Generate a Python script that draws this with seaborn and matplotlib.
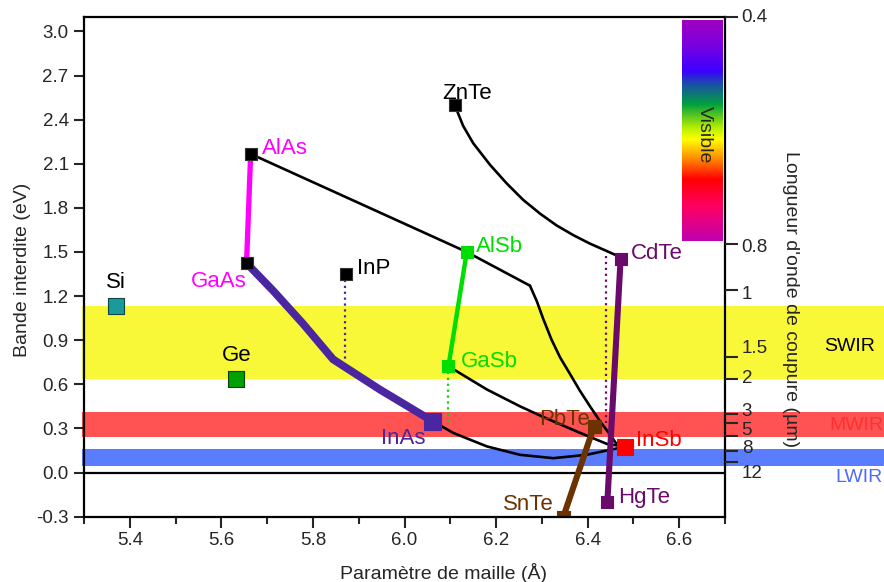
import numpy as np
import matplotlib
matplotlib.use('Agg')
import matplotlib.pyplot as plt
from matplotlib.patches import Rectangle
from matplotlib.colors import LinearSegmentedColormap
import matplotlib.transforms as mtransforms
import seaborn as sns

# ------------------------------
# DATA
# ------------------------------
compounds = ['Si', 'Ge', 'AlAs', 'GaAs', 'InP', 'InAs', 'ZnTe', 'AlSb',
             'GaSb', 'CdTe', 'HgTe', 'InSb', 'PbTe', 'SnTe']
lattice = [5.369, 5.633, 5.664, 5.655, 5.872, 6.060, 6.110, 6.136,
           6.096, 6.472, 6.443, 6.482, 6.414, 6.347]
gap = [1.130, 0.634, 2.167, 1.424, 1.347, 0.352, 2.497, 1.500,
       0.723, 1.454, -0.202, 0.176, 0.315, -0.300]

# alloy curves
gaas_inas_a = [5.655, 5.713, 5.779, 5.844, 5.946, 6.060]
gaas_inas_e = [1.424, 1.237, 1.010, 0.770, 0.565, 0.352]
alas_gaas_a = [5.664, 5.655]
alas_gaas_e = [2.167, 1.424]
alas_alsb_a = [5.664, 6.136, 6.274]
alas_alsb_e = [2.167, 1.500, 1.271]
alsb_insb_a = [6.274, 6.289, 6.303, 6.321, 6.340, 6.362, 6.383, 6.405,
               6.427, 6.449, 6.463, 6.482]
alsb_insb_e = [1.271, 1.165, 1.045, 0.905, 0.782, 0.668, 0.557, 0.451,
               0.349, 0.258, 0.195, 0.176]
alsb_gasb_a = [6.136, 6.096]
alsb_gasb_e = [1.500, 0.723]
gasb_insb_a = [6.096, 6.180, 6.252, 6.303, 6.376, 6.442, 6.482]
gasb_insb_e = [0.723, 0.565, 0.451, 0.378, 0.280, 0.195, 0.176]
inas_insb_a = [6.060, 6.107, 6.180, 6.252, 6.325, 6.398, 6.449, 6.482]
inas_insb_e = [0.352, 0.269, 0.178, 0.121, 0.098, 0.121, 0.155, 0.176]
znte_cdte_a = [6.110, 6.128, 6.150, 6.187, 6.223, 6.259, 6.296, 6.332,
               6.369, 6.405, 6.442, 6.468]
znte_cdte_e = [2.497, 2.358, 2.240, 2.092, 1.967, 1.855, 1.761, 1.681,
               1.614, 1.557, 1.506, 1.470]
cdte_hgte_a = [6.472, 6.443]
cdte_hgte_e = [1.454, -0.202]
snte_pbte_a = [6.347, 6.414]
snte_pbte_e = [-0.300, 0.315]

# dotted drop lines
inp_drop_a = [5.870, 5.870]
inp_drop_e = [1.347, 0.759]
gasb_drop_a = [6.094, 6.094]
gasb_drop_e = [0.723, 0.326]
cdte_drop_a = [6.440, 6.440]
cdte_drop_e = [1.476, 0.338]

# infrared bands (eV)
band_names = ['SWIR', 'MWIR', 'LWIR']
band_low = [0.634, 0.242, 0.048]
band_high = [1.130, 0.410, 0.160]

# right axis: cut-off wavelength (um)
wl_tick_e = [3.10, 1.552, 1.242, 0.786, 0.638, 0.401, 0.338, 0.246, 0.150, 0.071]
wl_labels = ['0.4', '0.8', '1', '1.5', '2', '3', '5', '8', '12']
wl_label_e = [3.067, 1.500, 1.180, 0.816, 0.606, 0.383, 0.258, 0.133, -0.038]

# visible spectrum strip
vis_stops = [0.0, 0.11, 0.23, 0.29, 0.38, 0.49, 0.54, 0.63, 0.72, 0.84, 1.0]
vis_colors = ['#a000c0', '#7a00e0', '#3c00ff', '#1a50a8', '#00a040', '#b8f000',
              '#ffff00', '#ff8800', '#ff0000', '#ff0060', '#c000b0']

# ------------------------------
# STYLE
# ------------------------------
sns.set_theme(style='ticks')
plt.rcParams['font.family'] = ['Liberation Sans', 'DejaVu Sans']
plt.rcParams['axes.linewidth'] = 1.6

c_mag = '#ff00ff'
c_ind = '#4a27a0'
c_grn = '#00dd00'
c_pur = '#6a0a6a'
c_brn = '#6b3300'
c_red = '#ff0000'

fig = plt.figure(figsize=(8.84, 5.82), dpi=100)
ax = fig.add_axes([84 / 884, 1 - 516.7 / 582, 641 / 884, 500 / 582])
ax.set_xlim(5.3, 6.7)
ax.set_ylim(-0.3, 3.1)

# bands spill past both axes
band_cols = ['#f8f838', '#ff5252', '#5a7cff']
trans = mtransforms.blended_transform_factory(ax.transAxes, ax.transData)
for lo, hi, col in zip(band_low, band_high, band_cols):
    ax.add_patch(Rectangle((-0.003, lo), 1.3, hi - lo, transform=trans,
                           facecolor=col, edgecolor='none', clip_on=False, zorder=0))

ax.text(1.195, 0.827, 'SWIR', transform=trans, ha='center', va='baseline',
        fontsize=14, color='black')
ax.text(1.163, 0.292, 'MWIR', transform=trans, ha='left', va='baseline',
        fontsize=14, color='#ff3030')
ax.text(1.172, -0.061, 'LWIR', transform=trans, ha='left', va='baseline',
        fontsize=14, color='#4d6bff')

# visible strip
vis_cmap = LinearSegmentedColormap.from_list('vis', list(zip(vis_stops, vis_colors)))
ax.imshow(np.linspace(0, 1, 256)[:, None], cmap=vis_cmap, aspect='auto',
          extent=(6.605, 6.693, 1.572, 3.070), zorder=1)
ax.text(6.654, 2.30, 'Visible', rotation=270, ha='center', va='center', fontsize=14)

ax.axhline(0, color='black', lw=1.6, zorder=2)

# curves
def curve(a, e, color, lw, ls='-', z=3):
    sns.lineplot(x=a, y=e, sort=False, estimator=None, color=color, lw=lw,
                 linestyle=ls, ax=ax, zorder=z)

curve(alas_alsb_a, alas_alsb_e, 'black', 1.9)
curve(alsb_insb_a, alsb_insb_e, 'black', 1.9)
curve(gasb_insb_a, gasb_insb_e, 'black', 1.9)
curve(inas_insb_a, inas_insb_e, 'black', 1.9)
curve(znte_cdte_a, znte_cdte_e, 'black', 1.9)
curve(inp_drop_a, inp_drop_e, c_ind, 1.6, ':')
curve(gasb_drop_a, gasb_drop_e, c_grn, 1.6, ':')
curve(cdte_drop_a, cdte_drop_e, c_pur, 1.6, ':')
curve(alas_gaas_a, alas_gaas_e, c_mag, 3.8, z=4)
curve(gaas_inas_a, gaas_inas_e, c_ind, 5.6, z=4)
curve(alsb_gasb_a, alsb_gasb_e, c_grn, 3.2, z=4)
curve(cdte_hgte_a, cdte_hgte_e, c_pur, 4.4, z=4)
curve(snte_pbte_a, snte_pbte_e, c_brn, 4.4, z=4)

# markers
mk_face = ['#1a9a9a', '#00a000', 'black', 'black', 'black', c_ind, 'black', c_grn,
           c_grn, c_pur, c_pur, c_red, c_brn, c_brn]
mk_edge = ['#104545', '#0a400a', '#333333', '#333333', '#333333', c_ind, '#333333', c_grn,
           c_grn, c_pur, c_pur, c_red, c_brn, c_brn]
mk_px = [16, 16.5, 12, 12, 12, 17, 12, 12, 12, 12.5, 12.5, 16.5, 13, 13]
for a, e, fc, ec, px in zip(lattice, gap, mk_face, mk_edge, mk_px):
    sns.scatterplot(x=[a], y=[e], marker='s', s=(px * 0.72) ** 2, color=fc,
                    edgecolor=ec, linewidth=0.8, ax=ax, zorder=6)

# compound labels
lab_x = [5.369, 5.634, 5.688, 5.655, 5.897, 6.045, 6.083, 6.157,
         6.123, 6.494, 6.467, 6.506, 6.405, 6.325]
lab_y = [1.253, 0.759, 2.165, 1.260, 1.347, 0.196, 2.543, 1.500,
         0.720, 1.454, -0.209, 0.178, 0.326, -0.255]
lab_ha = ['center', 'center', 'left', 'right', 'left', 'right', 'left', 'left',
          'left', 'left', 'left', 'left', 'right', 'right']
lab_col = ['black', 'black', c_mag, c_mag, 'black', c_ind, 'black', c_grn,
           c_grn, c_pur, c_pur, c_red, c_brn, c_brn]
for name, x, y, ha, col in zip(compounds, lab_x, lab_y, lab_ha, lab_col):
    ax.text(x, y, name, ha=ha, va='baseline', fontsize=16, color=col, zorder=7)

# axes, ticks
ax.set_xticks(np.arange(5.4, 6.61, 0.2))
ax.set_xticklabels([f'{v:.1f}' for v in np.arange(5.4, 6.61, 0.2)])
ax.set_xticks(np.arange(5.3, 6.71, 0.2), minor=True)
ax.set_yticks(np.arange(-0.3, 3.01, 0.3))
ax.set_yticklabels([f'{v:.1f}' for v in np.arange(-0.3, 3.01, 0.3)])
ax.tick_params(axis='x', which='major', direction='out', length=8, width=1.5,
               pad=3, labelsize=13.5, top=False)
ax.tick_params(axis='x', which='minor', direction='out', length=5, width=1.5, top=False)
ax.tick_params(axis='y', which='major', direction='out', length=7, width=1.5,
               pad=4, labelsize=13.5, right=False)
for s in ax.spines.values():
    s.set_color('black')
    s.set_linewidth(1.6)
    s.set_zorder(8)

ax2 = ax.twinx()
ax2.set_ylim(ax.get_ylim())
ax2.set_yticks(wl_tick_e)
ax2.set_yticklabels([])
ax2.tick_params(axis='y', direction='out', length=9, width=1.5, left=False)
for s in ax2.spines.values():
    s.set_visible(False)
for lab, e in zip(wl_labels, wl_label_e):
    ax.text(1.026, e, lab, transform=trans, ha='left', va='baseline', fontsize=13.5)

fig.text(444 / 884, 1 - 579 / 582, 'Paramètre de maille (Å)', ha='center',
         va='baseline', fontsize=14)
fig.text(22.5 / 884, 1 - 270 / 582, 'Bande interdite (eV)', rotation=90,
         ha='center', va='center', fontsize=14)
fig.text(790 / 884, 1 - 299 / 582, "Longueur d'onde de coupure (µm)", rotation=270,
         ha='center', va='center', fontsize=14)

fig.savefig('out.png', dpi=100)
